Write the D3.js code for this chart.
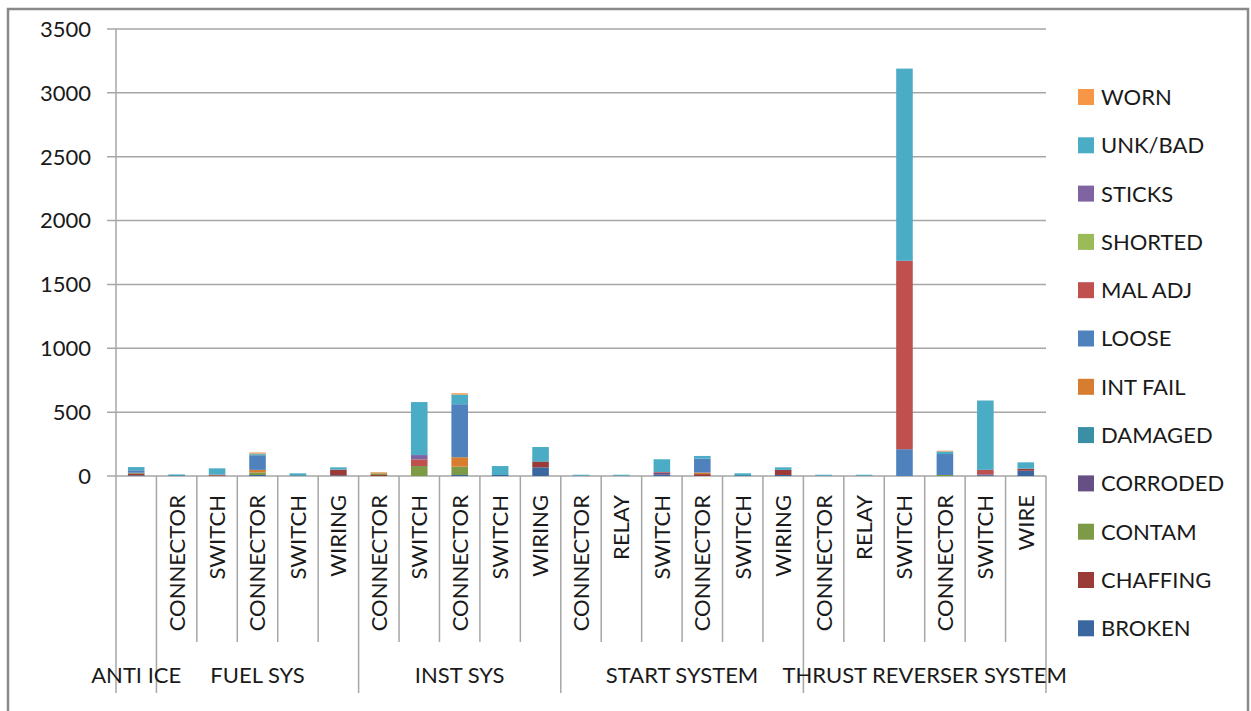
<!DOCTYPE html>
<html>
<head>
<meta charset="utf-8">
<script src="https://cdn.jsdelivr.net/npm/d3@7"></script>
<style>
	body { margin: 0; background: #fff; }
	svg text { font-family: Lato, "Open Sans", sans-serif; fill: #1a1a1a; }
</style>
</head>
<body>
<svg id="chart" width="1251" height="711"></svg>
<script>
// categories: group + sub label
var groups = ["ANTI ICE", "FUEL SYS", "INST SYS", "START SYSTEM", "THRUST REVERSER SYSTEM"];
var groupSizes = [1, 5, 5, 6, 6];
var subLabels = ["",
	"CONNECTOR", "SWITCH", "CONNECTOR", "SWITCH", "WIRING",
	"CONNECTOR", "SWITCH", "CONNECTOR", "SWITCH", "WIRING",
	"CONNECTOR", "RELAY", "SWITCH", "CONNECTOR", "SWITCH", "WIRING",
	"CONNECTOR", "RELAY", "SWITCH", "CONNECTOR", "SWITCH", "WIRE"];

var seriesNames = ["BROKEN", "CHAFFING", "CONTAM", "CORRODED", "DAMAGED", "INT FAIL",
	"LOOSE", "MAL ADJ", "SHORTED", "STICKS", "UNK/BAD", "WORN"];

var broken   = [5, 0, 0, 8, 0, 5, 0, 0, 8, 8, 68, 0, 0, 10, 0, 0, 8, 0, 0, 0, 0, 5, 41];
var chaffing = [15, 0, 5, 0, 0, 45, 8, 0, 0, 0, 44, 0, 0, 0, 15, 0, 40, 0, 0, 0, 0, 0, 16];
var contam   = [5, 0, 0, 20, 0, 0, 12, 78, 65, 0, 0, 0, 0, 0, 0, 0, 0, 0, 0, 0, 8, 0, 0];
var corroded = [0, 0, 0, 0, 0, 0, 0, 0, 0, 0, 0, 0, 0, 15, 0, 0, 0, 0, 0, 0, 0, 8, 0];
var damaged  = [0, 7, 0, 0, 6, 0, 0, 0, 0, 0, 5, 4, 4, 0, 0, 8, 0, 4, 4, 0, 0, 0, 0];
var intFail  = [0, 0, 0, 20, 0, 0, 8, 0, 74, 0, 0, 0, 0, 0, 12, 0, 0, 0, 0, 0, 0, 0, 0];
var loose    = [20, 0, 0, 115, 0, 0, 0, 0, 415, 0, 0, 0, 0, 0, 110, 0, 0, 0, 0, 210, 164, 0, 0];
var malAdj   = [0, 0, 5, 0, 0, 0, 0, 52, 0, 0, 0, 0, 0, 6, 0, 0, 0, 0, 0, 1475, 0, 35, 0];
var shorted  = [0, 0, 0, 3, 0, 0, 0, 0, 0, 0, 0, 0, 0, 0, 0, 0, 0, 0, 0, 0, 0, 0, 0];
var sticks   = [0, 0, 0, 0, 0, 0, 0, 34, 0, 0, 0, 0, 0, 0, 0, 0, 0, 0, 0, 0, 0, 0, 0];
var unkBad   = [25, 5, 50, 10, 15, 18, 0, 415, 76, 70, 110, 6, 6, 100, 20, 13, 20, 6, 6, 1505, 20, 543, 50];
var worn     = [0, 0, 0, 8, 0, 0, 0, 0, 10, 0, 0, 0, 0, 0, 0, 0, 0, 0, 0, 0, 6, 0, 0];

var yTicks = [0, 500, 1000, 1500, 2000, 2500, 3000, 3500];

var colors = ["#3a67a0", "#9b3b38", "#7d9a46", "#664f85", "#3a8fa5", "#d67d2f",
	"#4f81bd", "#c0504d", "#9bbb59", "#8064a2", "#4bacc6", "#f79646"];

var seriesValues = [broken, chaffing, contam, corroded, damaged, intFail,
	loose, malAdj, shorted, sticks, unkBad, worn];

var PLOT_LEFT = 116, PLOT_RIGHT = 1046, PLOT_TOP = 29, PLOT_BOTTOM = 476;
var SUB_BOTTOM = 642, GROUP_BOTTOM = 693;
var GRID = "#a6a6a6";

var svg = d3.select("#chart");

// outer frame
svg.append("rect")
	.attr("x", 8).attr("y", 9)
	.attr("width", 1240).attr("height", 710)
	.style("fill", "none")
	.style("stroke", "#898989")
	.style("stroke-width", 2.5);

var idx = d3.range(subLabels.length);
var x = d3.scaleBand()
	.domain(idx)
	.range([PLOT_LEFT, PLOT_RIGHT])
	.paddingInner(0.59)
	.paddingOuter(0.295);
var step = x.step();

var y = d3.scaleLinear().domain([0, 3500]).range([PLOT_BOTTOM, PLOT_TOP]);

// gridlines + ticks
svg.append("g").selectAll("line")
	.data(yTicks)
	.join("line")
	.attr("x1", PLOT_LEFT - 9).attr("x2", PLOT_RIGHT)
	.attr("y1", function(d) { return y(d); })
	.attr("y2", function(d) { return y(d); })
	.style("stroke", GRID)
	.style("stroke-width", 1.5);

svg.append("g").selectAll("text")
	.data(yTicks)
	.join("text")
	.attr("x", 91)
	.attr("y", function(d) { return y(d); })
	.attr("dy", "0.36em")
	.style("text-anchor", "end")
	.style("font-size", "22px")
	.text(function(d) { return d; });

// stacked bars
var rows = idx.map(function(i) {
	var r = { i: i };
	seriesNames.forEach(function(s, k) { r[s] = seriesValues[k][i]; });
	return r;
});
var stacked = d3.stack().keys(seriesNames)(rows);

svg.append("g").selectAll("g")
	.data(stacked)
	.join("g")
	.style("fill", function(d, k) { return colors[k]; })
	.selectAll("rect")
	.data(function(d) { return d; })
	.join("rect")
	.attr("x", function(d) { return x(d.data.i); })
	.attr("width", x.bandwidth())
	.attr("y", function(d) { return y(d[1]); })
	.attr("height", function(d) { return y(d[0]) - y(d[1]); });

// category axis: separators
var axis = svg.append("g");
axis.append("line")
	.attr("x1", PLOT_LEFT).attr("x2", PLOT_LEFT)
	.attr("y1", PLOT_TOP).attr("y2", GROUP_BOTTOM)
	.style("stroke", GRID).style("stroke-width", 1.5);

var groupStarts = [0];
groupSizes.forEach(function(n, g) { groupStarts.push(groupStarts[g] + n); });

d3.range(1, subLabels.length + 1).forEach(function(i) {
	var isGroup = groupStarts.indexOf(i) >= 0;
	var xx = PLOT_LEFT + i * step;
	axis.append("line")
		.attr("x1", xx).attr("x2", xx)
		.attr("y1", PLOT_BOTTOM).attr("y2", isGroup ? GROUP_BOTTOM : SUB_BOTTOM)
		.style("stroke", GRID).style("stroke-width", 1.5);
});

// sub labels, rotated
axis.selectAll("text.sub")
	.data(idx)
	.join("text")
	.attr("class", "sub")
	.attr("transform", function(i) {
		return "translate(" + (x(i) + x.bandwidth() / 2) + "," + 495 + ") rotate(-90)";
	})
	.attr("dy", "0.36em")
	.style("text-anchor", "end")
	.style("font-size", "22px")
	.text(function(i) { return subLabels[i]; });

// group labels
axis.selectAll("text.grp")
	.data(groups)
	.join("text")
	.attr("class", "grp")
	.attr("x", function(d, g) {
		return PLOT_LEFT + (groupStarts[g] + groupSizes[g] / 2) * step;
	})
	.attr("y", 675)
	.attr("dy", "0.36em")
	.style("text-anchor", "middle")
	.style("font-size", "22px")
	.text(function(d) { return d; });

// legend, reversed like excel stacked columns
var legendItems = seriesNames.map(function(s, k) { return { name: s, color: colors[k] }; }).reverse();
var legend = svg.append("g").selectAll("g")
	.data(legendItems)
	.join("g")
	.attr("transform", function(d, k) { return "translate(1078," + (97 + k * 48.3) + ")"; });

legend.append("rect")
	.attr("x", 0).attr("y", -8)
	.attr("width", 16).attr("height", 16)
	.style("fill", function(d) { return d.color; });

legend.append("text")
	.attr("x", 23).attr("y", 0)
	.attr("dy", "0.36em")
	.style("font-size", "22px")
	.text(function(d) { return d.name; });
</script>
</body>
</html>
